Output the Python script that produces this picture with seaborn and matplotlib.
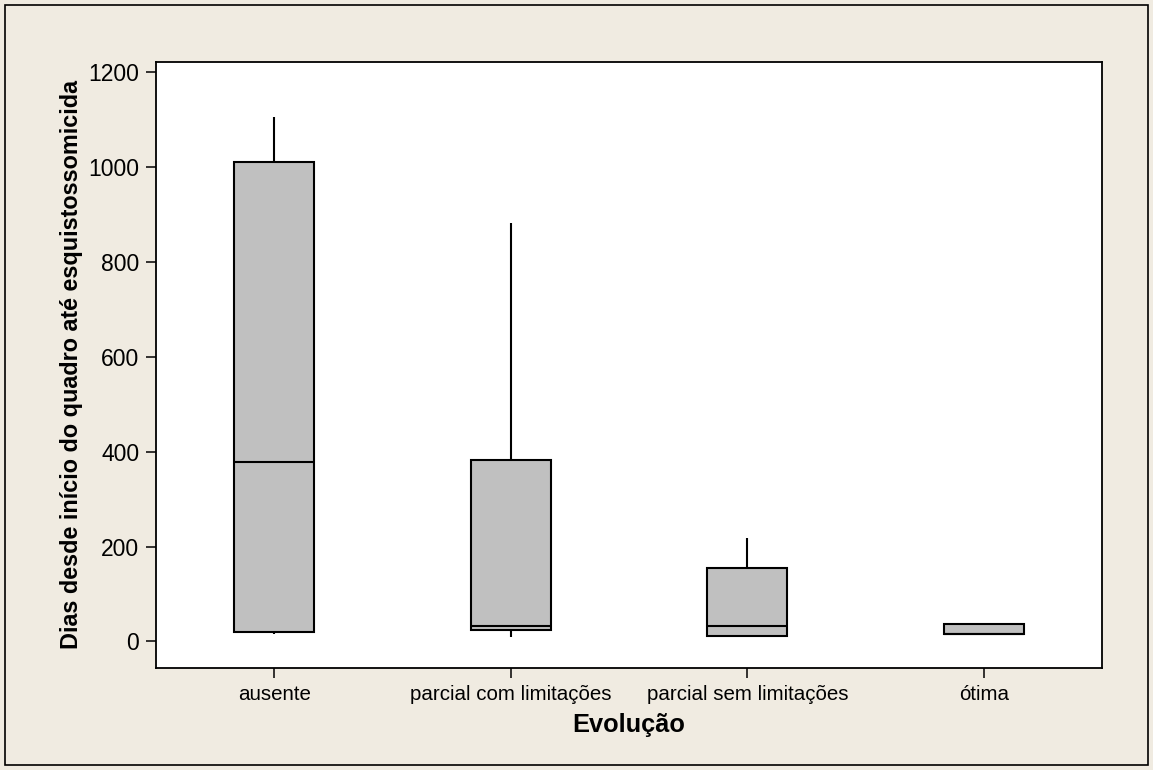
import matplotlib.pyplot as plt
import matplotlib.patches as patches
import pandas as pd
import seaborn as sns

# Values: min, Q1, median, Q3, max for each group
categorias = ['ausente', 'parcial com limitações', 'parcial sem limitações', 'ótima']
ausente = [15, 20, 378, 1012, 1105]
parcial_com = [10, 25, 33, 382, 882]
parcial_sem = [11, 11, 33, 155, 219]
otima = [16, 16, 16, 37, 37]

df = pd.DataFrame({
    'evolucao': [categorias[0]] * 5 + [categorias[1]] * 5 + [categorias[2]] * 5 + [categorias[3]] * 5,
    'dias': ausente + parcial_com + parcial_sem + otima,
})

sns.set_style('white')
plt.rcParams['font.family'] = ['Liberation Sans', 'DejaVu Sans']
plt.rcParams['text.color'] = 'black'
plt.rcParams['axes.labelcolor'] = 'black'
plt.rcParams['xtick.color'] = 'black'
plt.rcParams['ytick.color'] = 'black'

bg = '#F0EBE1'
fig = plt.figure(figsize=(11.53, 7.7), dpi=100, facecolor=bg)
ax = fig.add_axes([0.1353, 0.1325, 0.8205, 0.787])
ax.set_facecolor('white')

sns.boxplot(data=df, x='evolucao', y='dias', order=categorias, ax=ax,
            color='#C0C0C0', saturation=1, width=0.34, whis=(0, 100),
            showcaps=False, showfliers=False, linewidth=1.5, linecolor='black')

ax.set_xlim(-0.5, 3.5)
ax.set_ylim(-56, 1222)
ax.set_yticks(range(0, 1201, 200))

for s in ax.spines.values():
    s.set_color('black')
    s.set_linewidth(1.3)

ax.tick_params(axis='both', direction='out', length=7, width=1.1, color='black',
               labelcolor='black', pad=5, left=True, bottom=True)
ax.tick_params(axis='y', labelsize=16.5)
ax.tick_params(axis='x', labelsize=14.8)
ax.set_xlabel('Evolução', fontsize=18.3, fontweight='bold', labelpad=7)
ax.set_ylabel('Dias desde início do quadro até esquistossomicida', fontsize=16.8,
              fontweight='bold', labelpad=4)

# thin frame round the whole figure
fig.patches.append(patches.Rectangle((5 / 1153, 5 / 770), 1 - 10 / 1153, 1 - 10 / 770,
                                     transform=fig.transFigure, fill=False,
                                     edgecolor='black', linewidth=1.2))

fig.savefig('out.png', dpi=100, facecolor=bg)
